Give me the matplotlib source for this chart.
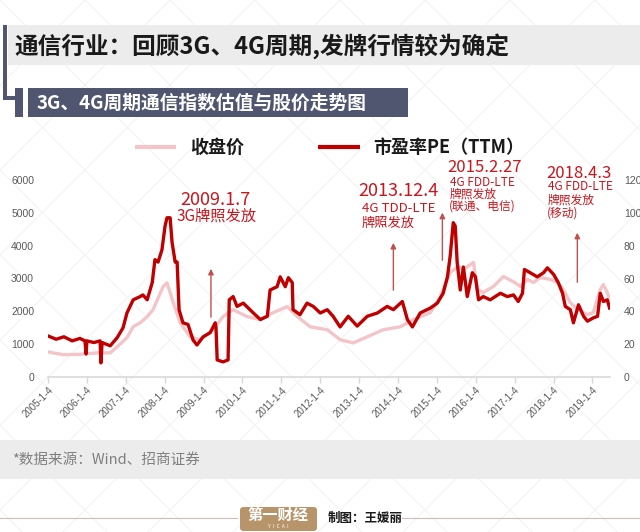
import matplotlib
matplotlib.use("Agg")
import matplotlib.pyplot as plt
from matplotlib.patches import Rectangle, FancyBboxPatch
from matplotlib.lines import Line2D

plt.rcParams['font.family'] = ['Noto Sans CJK SC', 'DejaVu Sans']

# ---------------- data ----------------
pe_x = [2005.00, 2005.21, 2005.41, 2005.62, 2005.82, 2005.95, 2005.98, 2006.00, 2006.18, 2006.34,
        2006.36, 2006.39, 2006.60, 2006.78, 2006.93, 2007.03, 2007.11, 2007.19, 2007.37, 2007.44,
        2007.55, 2007.68, 2007.75, 2007.83, 2007.93, 2008.01, 2008.06, 2008.14, 2008.19, 2008.27,
        2008.32, 2008.37, 2008.47, 2008.60, 2008.73, 2008.83, 2008.99, 2009.17, 2009.30, 2009.32,
        2009.35, 2009.50, 2009.63, 2009.66, 2009.76, 2009.86, 2010.02, 2010.28, 2010.46, 2010.64,
        2010.71, 2010.89, 2010.97, 2011.10, 2011.18, 2011.28, 2011.30, 2011.48, 2011.66, 2011.82,
        2012.00, 2012.18, 2012.33, 2012.51, 2012.72, 2012.95, 2013.21, 2013.47, 2013.72, 2013.88,
        2014.11, 2014.24, 2014.37, 2014.57, 2014.83, 2015.01, 2015.16, 2015.27, 2015.34, 2015.42,
        2015.47, 2015.52, 2015.60, 2015.68, 2015.78, 2015.91, 2015.99, 2016.07, 2016.19, 2016.37,
        2016.63, 2016.81, 2016.97, 2017.09, 2017.20, 2017.25, 2017.40, 2017.58, 2017.74, 2017.84,
        2018.00, 2018.12, 2018.23, 2018.30, 2018.43, 2018.51, 2018.64, 2018.77, 2018.87, 2019.02,
        2019.13, 2019.20, 2019.28, 2019.38, 2019.44]
pe_vals = [25, 23, 24.5, 22, 23.5, 22, 14, 22, 21, 22,
           8.6, 21, 19, 24, 30, 39, 43, 47, 49, 50,
           47, 57.5, 71.5, 70, 77.5, 92, 97, 97, 82, 70,
           70, 41, 33, 32, 22.5, 19.5, 24.5, 27, 33, 30,
           10.4, 9.2, 10.4, 47, 49, 43, 45, 39, 35, 37,
           53, 55, 61, 55, 60.5, 57.5, 41, 38, 45, 43,
           39, 41, 37, 30.5, 37, 31, 37, 39, 43, 41,
           46, 35, 30.5, 39, 42, 45, 51, 61, 73.5, 94,
           92, 70, 53, 67, 49, 63.5, 61, 47, 49, 47,
           51, 49, 50, 46, 51, 65.5, 63.5, 61, 63.5, 66.5,
           62.5, 57.5, 51, 43, 41, 33, 44, 37, 34, 36,
           37, 51, 46, 47, 42]

price_x = [2005.00, 2005.39, 2005.82, 2006.26, 2006.60, 2006.78, 2007.03, 2007.19, 2007.37, 2007.55,
           2007.70, 2007.96, 2008.06, 2008.22, 2008.40, 2008.65, 2008.91, 2009.25, 2009.50, 2009.76,
           2010.12, 2010.46, 2010.79, 2011.15, 2011.41, 2011.74, 2012.18, 2012.51, 2012.85, 2013.21,
           2013.62, 2014.06, 2014.39, 2014.83, 2015.09, 2015.34, 2015.55, 2015.68, 2015.94, 2016.04,
           2016.19, 2016.45, 2016.71, 2016.97, 2017.15, 2017.33, 2017.48, 2017.66, 2017.92, 2018.10,
           2018.25, 2018.43, 2018.61, 2018.87, 2019.02, 2019.20, 2019.28, 2019.38, 2019.44]
price_vals = [765, 680, 690, 735, 735, 920, 1200, 1530, 1650, 1840,
              2050, 2750, 2870, 2265, 1650, 1225, 1135, 1440, 1840, 2050,
              1840, 1745, 1960, 2145, 1840, 1530, 1440, 1135, 1040, 1225,
              1440, 1530, 1745, 1960, 2450, 3185, 3365, 3275, 3490, 2665,
              2570, 2755, 3060, 2900, 2755, 2970, 2880, 3030, 2970, 2880,
              2665, 2265, 2050, 1900, 1960, 2665, 2815, 2570, 2360]

year_ticks = list(range(2005, 2020))
year_labels = [f"{y}-1-4" for y in year_ticks]
left_ticks = [0, 1000, 2000, 3000, 4000, 5000, 6000]
right_ticks = [0, 20, 40, 60, 80, 100, 120]

title = "通信行业：回顾3G、4G周期,发牌行情较为确定"
subtitle = "3G、4G周期通信指数估值与股价走势图"
legend_price = "收盘价"
legend_pe = "市盈率PE（TTM）"
events = [
    # (arrow x, arrow y0, arrow y1)
    (2009.19, 1740, 3380),
    (2013.88, 2560, 4170),
    (2015.14, 3470, 5090),
    (2018.61, 2800, 4480),
]
source = "*数据来源：Wind、招商证券"
credit = "制图：王媛丽"

# ---------------- figure ----------------
W, H = 640, 532
fig = plt.figure(figsize=(6.4, 5.32), dpi=100)
fig.patch.set_facecolor('white')

def fx(x): return x / W
def fy(y): return 1 - y / H

# watermark diagonal lattice
for k in range(-12, 14):
    x0 = k * 85
    fig.add_artist(Line2D([fx(x0), fx(x0 + 600)], [fy(0), fy(600)], color='#f3f3f3', lw=0.8, zorder=0))
    fig.add_artist(Line2D([fx(x0), fx(x0 - 600)], [fy(0), fy(600)], color='#f3f3f3', lw=0.8, zorder=0))

# title band
fig.add_artist(Rectangle((fx(8), fy(65)), fx(640 - 8), (65 - 25) / H, facecolor='#ececec', edgecolor='none', zorder=1))
fig.text(fx(14), fy(46), title, fontsize=17, fontweight='bold', color='#1a1a1a', va='center', ha='left', zorder=3)

# L-shaped bar
bar_col = '#50566f'
fig.add_artist(Rectangle((fx(3), fy(100)), 4 / W, (100 - 25) / H, facecolor=bar_col, edgecolor='none', zorder=2))
fig.add_artist(Rectangle((fx(3), fy(100)), (23 - 3) / W, 4 / H, facecolor=bar_col, edgecolor='none', zorder=2))
fig.add_artist(Rectangle((fx(15), fy(117)), (23 - 15) / W, (117 - 88) / H, facecolor=bar_col, edgecolor='none', zorder=2))
# subtitle banner
fig.add_artist(Rectangle((fx(28), fy(117)), (408 - 28) / W, (117 - 88) / H, facecolor=bar_col, edgecolor='none', zorder=2))
fig.text(fx(37), fy(103), subtitle, fontsize=13.5, fontweight='bold', color='white', va='center', ha='left', zorder=3)

# legend
fig.add_artist(Line2D([fx(135), fx(176)], [fy(147), fy(147)], color='#f4c5c8', lw=3, solid_capstyle='butt'))
fig.text(fx(190), fy(147), legend_price, fontsize=13, fontweight='bold', color='#1a1a1a', va='center', ha='left')
fig.add_artist(Line2D([fx(318), fx(360)], [fy(147), fy(147)], color='#c00000', lw=3, solid_capstyle='butt'))
fig.text(fx(373), fy(147), legend_pe, fontsize=13, fontweight='bold', color='#1a1a1a', va='center', ha='left')

# axes
ax = fig.add_axes([fx(48), fy(377), (610 - 48) / W, (377 - 180) / H])
ax.patch.set_alpha(0)
ax.plot(price_x, price_vals, color='#f4c5c8', lw=2.4, solid_joinstyle='round', zorder=2)
ax.set_xlim(2005.0, 2019.45)
ax.set_ylim(0, 6000)
ax.set_yticks(left_ticks)
ax.set_yticklabels([str(t) for t in left_ticks])
ax.set_xticks(year_ticks)
ax.set_xticklabels(year_labels, rotation=45, ha='right', rotation_mode='anchor')
for s in ['top', 'right', 'left']:
    ax.spines[s].set_visible(False)
ax.spines['bottom'].set_color('#d9d9d9')
ax.spines['bottom'].set_linewidth(1.2)
ax.tick_params(axis='y', length=0, pad=10, labelsize=7.5, labelcolor='#595959')
ax.tick_params(axis='x', length=4, color='#d9d9d9', width=1, pad=2, labelsize=7, labelcolor='#595959')
for lab in ax.get_yticklabels() + ax.get_xticklabels():
    lab.set_family(['Liberation Sans', 'DejaVu Sans'])

ax2 = ax.twinx()
ax2.plot(pe_x, pe_vals, color='#c00000', lw=2.4, solid_joinstyle='round', zorder=3)
ax2.set_ylim(0, 120)
ax2.set_yticks(right_ticks)
ax2.set_yticklabels([str(t) for t in right_ticks])
for s in ['top', 'right', 'left', 'bottom']:
    ax2.spines[s].set_visible(False)
ax2.tick_params(axis='y', length=0, pad=10, labelsize=7.5, labelcolor='#595959')
for lab in ax2.get_yticklabels():
    lab.set_family(['Liberation Sans', 'DejaVu Sans'])

# arrows
arrow_col = '#c0504d'
for (xa, y0, y1) in events:
    ax.annotate('', xy=(xa, y1), xytext=(xa, y0),
                arrowprops=dict(arrowstyle='-|>', color=arrow_col, lw=1.0, mutation_scale=8), zorder=4)

# annotation texts
red = '#c8161d'
fig.text(fx(215), fy(200), "2009.1.7", fontsize=13, color=red, ha='center', va='center')
fig.text(fx(217), fy(216), "3G牌照发放", fontsize=11, color=red, ha='center', va='center')

fig.text(fx(358), fy(191), "2013.12.4", fontsize=13, color=red, ha='left', va='center')
fig.text(fx(362), fy(208), "4G TDD-LTE", fontsize=9.5, color=red, ha='left', va='center')
fig.text(fx(362), fy(223), "牌照发放", fontsize=9.5, color=red, ha='left', va='center')

fig.text(fx(447), fy(168), "2015.2.27", fontsize=12, color=red, ha='left', va='center')
fig.text(fx(450), fy(182), "4G FDD-LTE", fontsize=8.5, color=red, ha='left', va='center')
fig.text(fx(450), fy(194), "牌照发放", fontsize=8.5, color=red, ha='left', va='center')
fig.text(fx(449), fy(206), "(联通、电信)", fontsize=8.5, color=red, ha='left', va='center')

fig.text(fx(546), fy(173), "2018.4.3", fontsize=12, color=red, ha='left', va='center')
fig.text(fx(548), fy(187), "4G FDD-LTE", fontsize=8.5, color=red, ha='left', va='center')
fig.text(fx(548), fy(200), "牌照发放", fontsize=8.5, color=red, ha='left', va='center')
fig.text(fx(547), fy(213), "(移动)", fontsize=8.5, color=red, ha='left', va='center')

# footer band
fig.add_artist(Rectangle((0, fy(479)), 1, (479 - 440) / H, facecolor='#ececec', edgecolor='none', zorder=1))
fig.text(fx(12), fy(460), source, fontsize=10.5, color='#7f7f7f', ha='left', va='center', zorder=3)

# footer line, logo, credit
fig.add_artist(Line2D([0, fx(237)], [fy(518), fy(518)], color='#c8c0b8', lw=0.8))
fig.add_artist(Line2D([fx(402), 1], [fy(518), fy(518)], color='#c8c0b8', lw=0.8))
fig.add_artist(FancyBboxPatch((fx(240), fy(531)), (317 - 240) / W, (531 - 507) / H,
                              boxstyle='round,pad=0,rounding_size=0.006', facecolor='#b8946a',
                              edgecolor='none', zorder=2))
fig.text(fx(278), fy(515), "第一财经", fontsize=11, fontweight='bold', color='white', ha='center', va='center', zorder=3)
fig.text(fx(278), fy(527), "Y  I  C  A  I", fontsize=3.5, color='white', ha='center', va='center', zorder=3)
fig.text(fx(328), fy(518), credit, fontsize=9, fontweight='bold', color='#1a1a1a', ha='left', va='center')

fig.savefig('out.png', dpi=100, facecolor='white')
